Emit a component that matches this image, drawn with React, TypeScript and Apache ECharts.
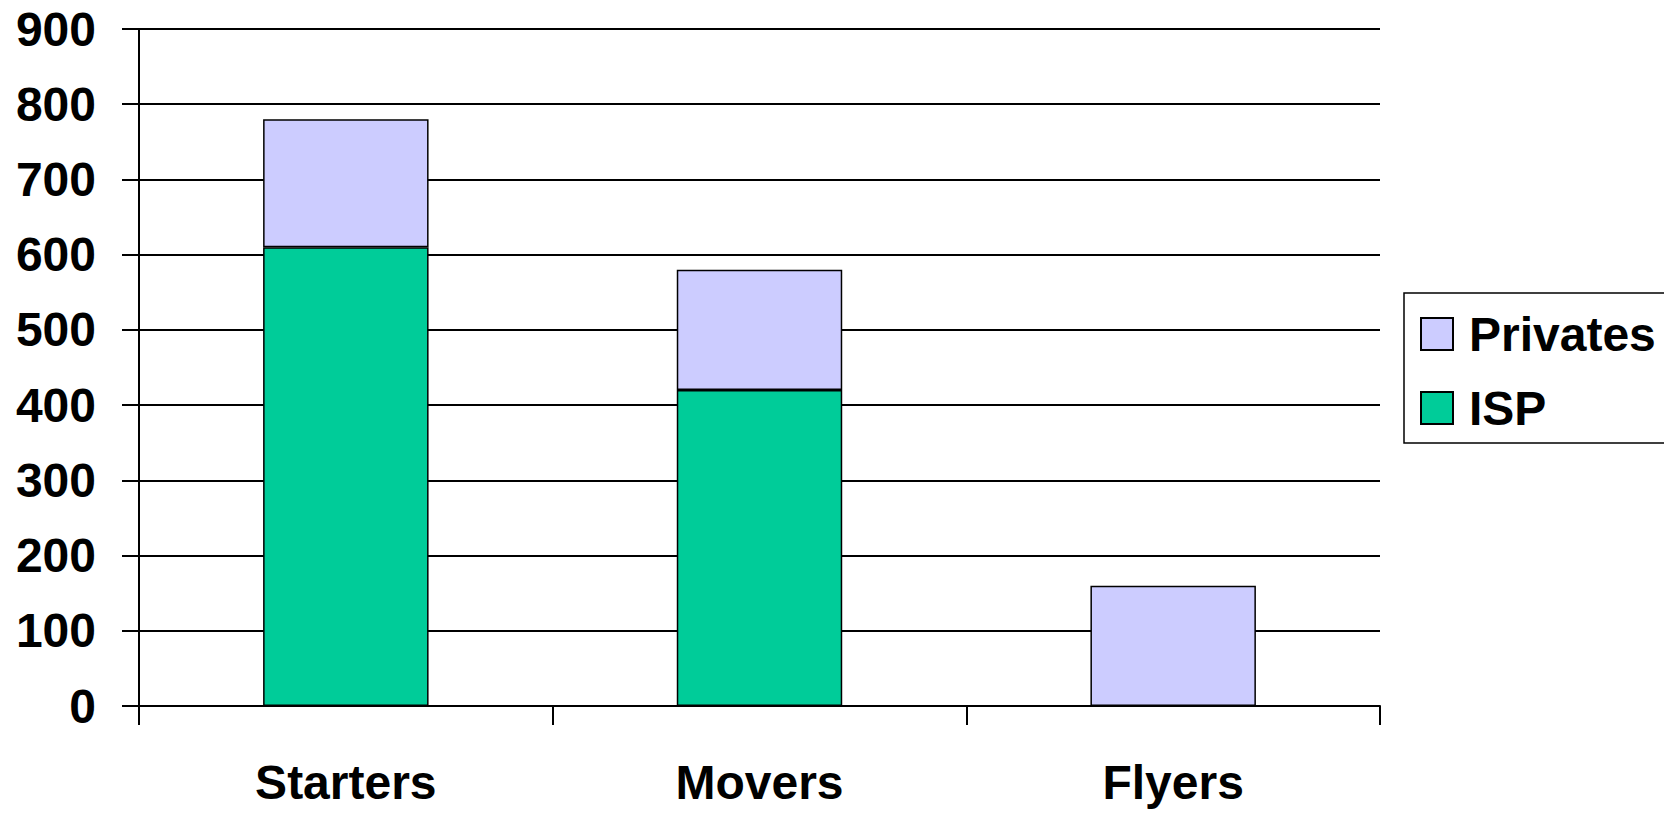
import React, { useEffect, useRef } from "react";
import * as echarts from "echarts";

const categories = ["Starters", "Movers", "Flyers"];
const ispValues = [610, 420, 0];
const privatesValues = [170, 160, 160];
const yTicks = { min: 0, max: 900, interval: 100 };

const FONT = "'Liberation Sans', Arial, sans-serif";

export default function App() {
  const ref = useRef<HTMLDivElement>(null);
  useEffect(() => {
    if (!ref.current) return;
    const chart = echarts.init(ref.current, undefined, { renderer: "svg" });
    chart.setOption({
      animation: false,
      backgroundColor: "#ffffff",
      grid: { left: 139, right: 284, top: 29, bottom: 107, containLabel: false },
      legend: {
        orient: "vertical",
        left: 1404,
        top: 293,
        data: ["Privates", "ISP"],
        icon: "rect",
        itemWidth: 32,
        itemHeight: 32,
        itemGap: 24,
        borderColor: "#000",
        borderWidth: 1.5,
        padding: [16, 20, 10, 16],
        textStyle: {
          fontFamily: FONT,
          fontWeight: "bold",
          fontSize: 48,
          lineHeight: 50,
          color: "#000",
          padding: [0, 0, 0, 11],
        },
      },
      xAxis: {
        type: "category",
        data: categories,
        axisLine: { show: true, lineStyle: { color: "#000", width: 2 } },
        axisTick: { show: true, length: 19, lineStyle: { color: "#000", width: 2 } },
        axisLabel: {
          margin: 52,
          fontFamily: FONT,
          fontWeight: "bold",
          fontSize: 48,
          color: "#000",
        },
      },
      yAxis: {
        type: "value",
        min: yTicks.min,
        max: yTicks.max,
        interval: yTicks.interval,
        axisLine: { show: true, lineStyle: { color: "#000", width: 2 } },
        axisTick: { show: true, length: 17, lineStyle: { color: "#000", width: 2 } },
        splitLine: { show: true, lineStyle: { color: "#000", width: 2 } },
        axisLabel: {
          margin: 43,
          fontFamily: FONT,
          fontWeight: "bold",
          fontSize: 48,
          color: "#000",
        },
      },
      series: [
        {
          name: "ISP",
          type: "bar",
          stack: "total",
          data: ispValues,
          barCategoryGap: "60%",
          itemStyle: { color: "#00CC99", borderColor: "#000", borderWidth: 1.5 },
        },
        {
          name: "Privates",
          type: "bar",
          stack: "total",
          data: privatesValues,
          barCategoryGap: "60%",
          itemStyle: { color: "#CCCCFF", borderColor: "#000", borderWidth: 1.5 },
        },
      ],
    });
    return () => chart.dispose();
  }, []);
  return (
    <div
      ref={ref}
      style={{ position: "fixed", left: 0, top: 0, width: 1664, height: 813 }}
    />
  );
}
